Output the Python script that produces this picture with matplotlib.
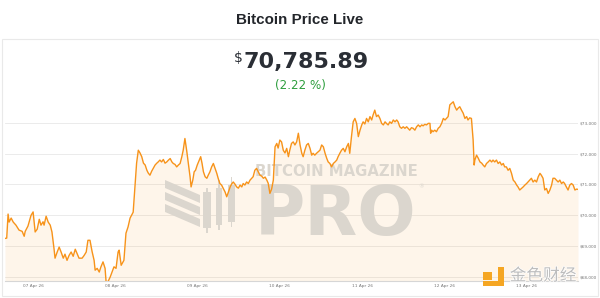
import numpy as np
import matplotlib
matplotlib.use("Agg")
import matplotlib.pyplot as plt
from matplotlib.patches import Polygon, Rectangle
from matplotlib.transforms import Affine2D
import matplotlib.patheffects as pe

# BTC price, hours since 07 Apr 26 00:00
hours = [
    -8.2, -7.7, -7.3, -7.0, -6.4, -5.8, -5.0, -4.1, -3.2, -2.6,
    -2.3, -1.5, -0.6, 0.0, 0.6, 1.2, 1.8, 2.3, 2.9, 3.2,
    3.8, 4.4, 5.0, 5.5, 6.1, 6.4, 7.0, 7.6, 8.2, 8.8,
    9.3, 9.9, 10.5, 11.1, 11.7, 12.3, 12.8, 13.4, 14.3, 14.9,
    15.5, 16.0, 16.6, 17.2, 17.8, 18.1, 18.7, 19.3, 19.8, 20.4,
    21.0, 21.3, 21.9, 22.5, 23.0, 23.6, 24.2, 24.8, 25.1, 25.7,
    26.5, 27.1, 27.7, 28.3, 29.2, 29.8, 30.2, 30.7, 31.2, 31.7,
    32.2, 32.7, 33.2, 33.6, 34.1, 34.6, 35.1, 35.6, 36.1, 36.5,
    37.0, 37.5, 38.0, 38.5, 39.0, 39.5, 40.0, 40.5, 40.9, 41.4,
    41.9, 42.4, 42.9, 43.4, 43.8, 44.3, 44.8, 45.3, 45.8, 46.1,
    46.6, 47.0, 47.4, 47.9, 48.5, 48.9, 49.3, 49.7, 50.2, 50.7,
    51.1, 51.6, 52.1, 52.6, 53.1, 53.6, 54.0, 54.5, 55.0, 55.5,
    56.0, 56.5, 57.0, 57.5, 57.9, 58.4, 58.9, 59.4, 59.9, 60.4,
    60.9, 61.3, 61.8, 62.3, 62.8, 63.3, 63.8, 64.2, 64.7, 65.2,
    65.7, 66.2, 66.7, 67.2, 67.7, 68.2, 68.6, 69.1, 69.6, 70.1,
    70.6, 71.1, 71.5, 72.0, 72.5, 73.0, 73.5, 74.0, 74.5, 74.9,
    75.4, 75.9, 76.4, 76.9, 77.4, 77.9, 78.4, 78.8, 79.3, 79.8,
    80.3, 80.8, 81.3, 81.7, 82.2, 82.7, 83.2, 83.7, 84.2, 84.7,
    85.2, 85.7, 86.1, 86.6, 87.1, 87.6, 88.1, 88.6, 89.0, 89.5,
    90.0, 90.5, 91.0, 91.5, 92.0, 92.4, 92.9, 93.4, 93.9, 94.4,
    94.9, 95.4, 95.9, 96.3, 96.8, 97.3, 97.8, 98.3, 98.8, 99.2,
    99.7, 100.2, 100.7, 101.2, 101.7, 102.2, 102.7, 103.1, 103.6, 104.1,
    104.6, 105.1, 105.6, 106.1, 106.5, 107.0, 107.5, 108.0, 108.5, 109.0,
    109.4, 109.9, 110.4, 110.9, 111.4, 111.9, 112.4, 112.9, 113.4, 113.8,
    114.3, 114.8, 115.3, 115.8, 116.0, 116.3, 116.7, 117.2, 117.7, 118.2,
    118.7, 119.2, 119.7, 120.2, 120.6, 121.1, 121.6, 122.1, 122.6, 123.1,
    123.6, 124.0, 124.5, 125.0, 125.5, 126.0, 126.5, 126.9, 127.4, 127.9,
    128.4, 128.7, 128.9, 129.4, 129.9, 130.4, 130.9, 131.3, 131.8, 132.3,
    132.8, 133.3, 133.8, 134.2, 134.7, 135.2, 135.7, 136.2, 136.7, 137.2,
    137.6, 138.1, 138.6, 139.1, 139.6, 140.1, 140.6, 141.1, 141.5, 142.0,
    142.5, 143.0, 143.5, 144.0, 144.4, 144.9, 145.4, 145.9, 146.4, 146.9,
    147.4, 147.9, 148.3, 148.8, 149.3, 149.8, 150.3, 150.8, 151.3, 151.7,
    152.2, 152.7, 153.2, 153.7, 154.2, 154.7, 155.1, 155.6, 156.1, 156.6,
    157.1, 157.6, 158.1, 158.6, 159.0,
]

price = [
    69250, 69260, 70040, 69780, 69910, 69780, 69680, 69520, 69480, 69320,
    69480, 69650, 70000, 70110, 69460, 69550, 69870, 69680, 69790, 69680,
    69970, 69780, 69680, 69460, 68920, 68610, 68800, 68970, 68800, 68610,
    68740, 68540, 68700, 68810, 68670, 68900, 68770, 68610, 68610, 68700,
    68810, 69190, 69190, 68830, 68540, 68220, 68280, 68160, 68330, 68490,
    68280, 67840, 67860, 68000, 68150, 68330, 68280, 68810, 68870, 68380,
    68540, 69420, 69620, 69910, 70100, 71040, 71690, 72110, 72020, 71900,
    71690, 71630, 71460, 71370, 71300, 71430, 71530, 71630, 71690, 71730,
    71790, 71730, 71810, 71690, 71730, 71790, 71840, 71730, 71680, 71650,
    71570, 71630, 71680, 71900, 72110, 72490, 72110, 71680, 71250, 70920,
    71140, 71410, 71460, 71630, 71790, 71900, 71680, 71410, 71250, 71200,
    71300, 71410, 71570, 71680, 71520, 71360, 71200, 71030, 70980, 70870,
    70760, 70600, 70760, 70920, 71010, 71080, 71010, 70920, 70880, 70980,
    70920, 71030, 70980, 71080, 71030, 71140, 71200, 71250, 71460, 71520,
    71410, 71300, 71270, 71200, 71240, 71140, 71040, 70710, 70850, 71140,
    72220, 72330, 72180, 72440, 72380, 72110, 72020, 72170, 71900, 72110,
    72330, 72380, 72280, 72380, 72660, 72280, 72010, 71900, 72110, 72280,
    72330, 72170, 71950, 72010, 71950, 72010, 72060, 72110, 72280, 72220,
    72010, 71840, 71730, 71680, 71570, 71680, 71730, 71790, 71900, 72010,
    72110, 72170, 72060, 72220, 72330, 72010, 72550, 73030, 73140, 72980,
    72550, 72760, 72930, 73030, 72960, 73140, 73030, 73200, 73090, 73250,
    73410, 73200, 73250, 73140, 72980, 72930, 73030, 72980, 72930, 73030,
    72980, 73090, 73030, 73090, 73030, 72870, 72820, 72870, 72820, 72870,
    72820, 72760, 72840, 72820, 72760, 72870, 72930, 72870, 72930, 72900,
    72950, 72930, 72980, 72980, 72660, 72760, 72710, 72760, 72710, 72820,
    72870, 72980, 73140, 73090, 73140, 73200, 73580, 73630, 73680, 73520,
    73410, 73470, 73520, 73410, 73310, 73140, 73200, 73090, 73160, 73140,
    72440, 71630, 71790, 71950, 71850, 71730, 71690, 71630, 71570, 71680,
    71730, 71790, 71730, 71790, 71730, 71790, 71680, 71730, 71630, 71680,
    71570, 71570, 71460, 71520, 71360, 71140, 71080, 70980, 70920, 70820,
    70870, 70920, 70980, 71030, 71080, 71140, 71200, 71080, 71140, 71080,
    71250, 71360, 71300, 71200, 70820, 70870, 70710, 70820, 70980, 71200,
    71200, 71140, 71080, 71140, 71030, 71080, 71030, 70920, 70820, 70980,
    71030, 70980, 70820, 70850, 70840,
]

day_ticks = [0, 24, 48, 72, 96, 120, 144]
day_labels = ["07 Apr 26", "08 Apr 26", "09 Apr 26", "10 Apr 26",
              "11 Apr 26", "12 Apr 26", "13 Apr 26"]
price_ticks = [68000, 69000, 70000, 71000, 72000, 73000]

W, H = 600, 298
fig = plt.figure(figsize=(W / 100, H / 100), dpi=100)
fig.patch.set_facecolor("white")

# helper: pixel coords (origin top-left) -> figure
px = Affine2D().scale(1 / W, -1 / H).translate(0, 1) + fig.transFigure

# outer panel
fig.patches.append(Rectangle((2, 39), 596, 257, transform=px, fill=False,
                             edgecolor="#e9e9e9", lw=0.8))

fig.text(300 / W, 1 - 19.5 / H, "Bitcoin Price Live", ha="center", va="center",
         fontsize=10.9, fontweight="bold", family="Liberation Sans", color="#23262b")
fig.text(243 / W, 1 - 51 / H, "$", ha="right", va="top", fontsize=10,
         color="#2a2e35")
fig.text(243 / W, 1 - 60 / H, "70,785.89", ha="left", va="center_baseline",
         fontsize=16, fontweight="bold", color="#2a2e35")
fig.text(300 / W, 1 - 85 / H, "(2.22 %)", ha="center", va="center",
         fontsize=8.6, color="#2e9e3e")

ax = fig.add_axes([5 / W, (H - 281) / H, 573 / W, 186 / H])
ax.set_xlim(-8.2, 159.0)
ax.set_ylim(67870, 73900)

ax.fill_between(hours, price, 67870, color="#f7931a", alpha=0.09, lw=0, zorder=1)
ax.plot(hours, price, color="#f7931a", lw=1.0, zorder=3)

ax.set_yticks(price_ticks)
ax.set_yticklabels([f"${v:,}" for v in price_ticks])
ax.yaxis.tick_right()
ax.set_xticks(day_ticks)
ax.set_xticklabels(day_labels)
ax.tick_params(axis="both", length=0, labelsize=3.1, labelcolor="#777777")
ax.tick_params(axis="y", pad=1.2)
ax.tick_params(axis="x", pad=2)
ax.grid(axis="y", color="#e8e8e8", lw=0.6, zorder=0)
ax.set_axisbelow(True)
for s in ["top", "left", "right"]:
    ax.spines[s].set_visible(False)
ax.spines["bottom"].set_color("#d6d6d6")
ax.spines["bottom"].set_linewidth(0.8)

# Bitcoin Magazine Pro watermark
wm = "#dbd6ce"
for top in [180, 192, 204]:
    ax.add_patch(Polygon([(165, top), (200, top + 15), (200, top + 23), (165, top + 8)],
                         closed=True, transform=px, color=wm, lw=0, zorder=2, clip_on=False))
for x0, x1, b0, b1, w0, w1 in [(203, 211, 192, 228, 188, 233),
                               (216, 222, 188, 225, 180, 230),
                               (228, 235, 185, 222, 177, 227)]:
    ax.add_patch(Rectangle((x0, b0), x1 - x0, b1 - b0, transform=px, color=wm,
                           lw=0, zorder=2, clip_on=False))
    xm = (x0 + x1) / 2
    ax.add_patch(Rectangle((xm - 0.6, w0), 1.2, w1 - w0, transform=px, color=wm,
                           lw=0, zorder=2, clip_on=False))
ax.text(336, 176.5, "BITCOIN MAGAZINE", transform=px, ha="center", va="baseline",
        fontsize=10.7, fontweight="bold", family="DejaVu Sans", color=wm, zorder=2)
ax.text(336, 235, "PRO", transform=px, ha="center", va="baseline",
        fontsize=49.5, fontweight="bold", family="DejaVu Sans", color=wm, zorder=2)
ax.text(421, 187, "®", transform=px, ha="center", va="center",
        fontsize=4.2, color=wm, zorder=2)

# Jinse watermark (bottom right)
yl = "#f5a623"
ax.add_patch(Rectangle((483, 272), 9, 8, transform=px, color=yl, lw=0, zorder=6, clip_on=False))
ax.add_patch(Rectangle((498, 267), 6, 19, transform=px, color=yl, lw=0, zorder=6, clip_on=False))
ax.add_patch(Rectangle((483, 281), 21, 5, transform=px, color=yl, lw=0, zorder=6, clip_on=False))
t = ax.text(543, 276, "金色财经", transform=px, ha="center", va="center",
            fontsize=12, family=["Noto Sans CJK SC", "DejaVu Sans"],
            color="#bdbdbd", zorder=6, clip_on=False)
t.set_path_effects([pe.withStroke(linewidth=1.0, foreground="white")])

fig.savefig("out.png", dpi=100)
